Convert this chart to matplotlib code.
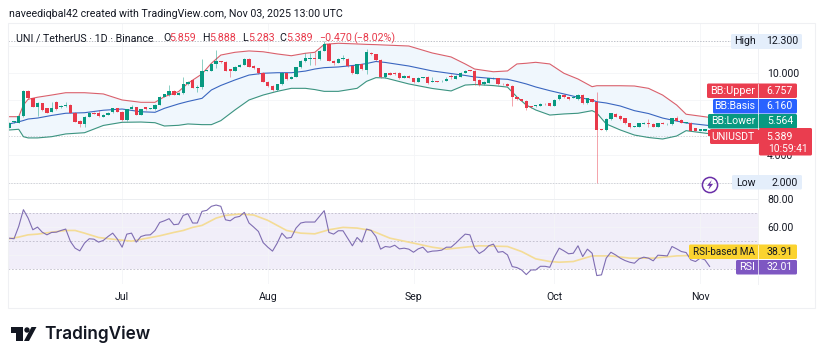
import numpy as np
import matplotlib
matplotlib.use('Agg')
import matplotlib.pyplot as plt
from matplotlib.patches import Rectangle, Polygon, Circle, FancyBboxPatch

plt.rcParams['font.family'] = ['Roboto', 'DejaVu Sans']

# data, one candle per day (0 = Jun 7)
opens = [6.01, 6.42, 6.38, 6.86, 8.71, 8.15, 7.54, 7.79, 7.42, 7.18, 7.91, 7.50, 7.59, 7.67, 7.11, 6.52, 6.28, 6.81, 7.11, 7.06,
         6.81, 6.94, 7.13, 7.42, 7.18, 6.57, 7.40, 7.50, 6.94, 7.50, 7.38, 7.37, 7.67, 8.27, 8.40, 8.71, 8.42, 8.57, 9.17, 9.49,
         8.93, 8.96, 10.15, 10.17, 10.66, 10.85, 10.80, 10.27, 10.17, 10.46, 10.59, 11.02, 10.51, 10.34, 10.03, 9.37, 9.08, 8.76, 9.17, 9.98,
         9.59, 9.73, 10.42, 10.88, 11.05, 11.10, 11.00, 11.63, 12.12, 10.90, 10.76, 11.02, 11.05, 10.51, 9.93, 10.63, 10.22, 11.49, 11.36, 10.95,
         9.68, 10.03, 10.03, 10.03, 9.64, 9.78, 9.61, 9.37, 9.64, 9.73, 9.37, 9.41, 9.40, 9.44, 9.75, 9.59, 9.73, 10.03, 10.20, 10.17,
         9.49, 9.17, 9.30, 9.61, 9.61, 9.22, 9.20, 9.05, 8.23, 8.08, 7.96, 7.58, 7.59, 7.62, 7.76, 7.79, 7.62, 8.10, 8.40, 8.23,
         8.20, 8.08, 8.40, 7.79, 8.08, 7.91, 5.89, 5.84, 6.64, 7.01, 6.86, 6.69, 6.33, 6.08, 6.08, 6.30, 6.35, 6.28, 6.08, 6.35,
         6.25, 6.25, 6.69, 6.57, 6.36, 6.38, 5.96, 5.77, 5.77, 5.859]
closes = [6.38, 6.46, 6.86, 8.71, 8.15, 7.54, 7.79, 7.30, 7.11, 7.42, 7.35, 7.59, 7.67, 7.11, 6.45, 6.28, 6.81, 7.11, 7.01, 6.86,
          6.94, 7.11, 7.42, 7.18, 6.57, 7.35, 7.50, 6.94, 7.35, 7.35, 7.42, 7.67, 8.27, 8.44, 8.71, 8.40, 8.57, 9.17, 9.37, 8.93,
          8.96, 10.15, 10.20, 10.66, 10.88, 10.80, 10.17, 10.17, 10.46, 10.59, 11.02, 10.46, 10.34, 10.03, 9.37, 9.05, 8.76, 9.17, 10.03, 9.56,
          9.73, 10.42, 10.88, 11.07, 11.10, 11.05, 11.63, 12.12, 10.88, 10.76, 11.02, 11.12, 10.51, 9.98, 10.63, 10.27, 11.56, 11.36, 10.95, 9.68,
          9.98, 9.88, 9.90, 9.61, 9.78, 9.66, 9.34, 9.64, 9.68, 9.25, 9.41, 9.37, 9.44, 9.59, 9.70, 9.78, 10.03, 10.17, 10.15, 9.42,
          9.13, 9.34, 9.61, 9.66, 9.17, 9.17, 9.08, 8.23, 8.08, 7.96, 7.42, 7.52, 7.64, 7.74, 7.72, 7.62, 8.03, 8.40, 8.23, 8.08,
          8.25, 8.40, 7.79, 8.15, 7.91, 5.84, 5.85, 6.64, 7.06, 6.81, 6.62, 6.33, 6.08, 6.12, 6.33, 6.35, 6.31, 6.08, 6.33, 6.31,
          6.30, 6.69, 6.52, 6.38, 6.40, 5.77, 5.77, 5.89, 5.89, 5.389]
highs = list(np.maximum(opens, closes) + 0.04)
lows = list(np.minimum(opens, closes) - 0.04)
# wicks that stick out of the bodies (day, high)
long_highs = {6: 7.85, 9: 7.91, 12: 7.91, 19: 7.30, 26: 7.67, 34: 9.10, 37: 9.69, 40: 9.10, 41: 11.00, 44: 11.68, 63: 11.44,
              64: 11.44, 65: 11.56, 71: 11.35, 76: 11.75, 90: 9.73, 93: 9.70, 94: 9.90, 99: 10.25, 125: 8.64, 136: 6.62, 142: 6.85,
              67: 12.30}
long_lows = {6: 6.85, 15: 6.08, 16: 6.08, 34: 8.30, 37: 8.50, 39: 8.90, 40: 8.60, 41: 8.80, 44: 10.34, 47: 9.69, 53: 9.90,
             63: 10.80, 64: 10.59, 65: 10.59, 69: 10.55, 76: 9.95, 94: 9.55, 99: 9.10, 100: 9.05, 107: 7.59, 110: 7.30,
             125: 2.00, 132: 5.98, 136: 6.08, 149: 5.283}
for d, v in long_highs.items():
    highs[d] = v
for d, v in long_lows.items():
    lows[d] = v

bb_days = [0, 2, 3, 4, 6, 9, 12, 16, 20, 24, 28, 31, 33, 36, 38, 41, 43, 45, 48, 51, 54, 57, 60, 63, 65, 67, 70, 74, 76, 78,
           80, 85, 90, 94, 97, 99, 103, 106, 108, 110, 112, 115, 118, 121, 124, 125, 127, 130, 133, 136, 139, 142, 144, 149]
bb_upper = [6.81, 6.81, 7.66, 8.08, 8.23, 8.39, 8.56, 8.56, 8.47, 8.03, 7.86, 7.86, 8.27, 8.64, 9.25, 9.93, 10.71, 11.31, 11.51, 11.61,
            11.55, 11.39, 11.26, 11.44, 11.51, 12.09, 12.17, 12.12, 12.09, 12.07, 12.04, 11.97, 11.46, 11.17, 10.66, 10.29, 10.09, 10.15, 10.66, 10.71,
            10.78, 10.66, 9.98, 9.56, 9.00, 9.07, 9.07, 9.07, 9.05, 8.88, 8.39, 7.66, 6.99, 6.757]
bb_basis = [6.28, 6.44, 6.53, 6.64, 6.71, 6.90, 7.06, 7.10, 7.28, 7.37, 7.17, 7.13, 7.42, 7.74, 7.92, 8.15, 8.76, 9.09, 9.49, 9.85,
            9.98, 10.02, 10.02, 10.14, 10.29, 10.39, 10.44, 10.58, 10.69, 10.84, 10.77, 10.51, 10.15, 9.96, 9.82, 9.71, 9.59, 9.54, 9.38, 9.20,
            8.98, 8.71, 8.47, 8.23, 8.03, 7.90, 7.81, 7.59, 7.25, 7.04, 6.71, 6.49, 6.35, 6.16]
bb_lower = [5.84, 5.89, 5.35, 5.26, 5.26, 5.35, 5.55, 5.64, 6.17, 6.40, 6.42, 6.37, 6.13, 6.18, 6.28, 6.23, 6.23, 6.52, 7.30, 8.03,
            8.39, 8.66, 8.88, 8.88, 8.79, 8.66, 8.66, 8.88, 9.39, 9.66, 9.64, 9.20, 8.87, 8.69, 9.12, 9.16, 9.08, 8.97, 8.25, 7.66,
            7.30, 6.93, 7.01, 7.06, 7.25, 7.08, 6.28, 5.84, 5.47, 5.29, 5.18, 5.40, 5.79, 5.564]

rsi = [52.1, 51.7, 60.5, 72.4, 66.4, 58.1, 60, 56.4, 54.5, 56.2, 56.4, 57.6, 58.6, 49.8, 45, 43.1, 48.6, 51.7, 51.4, 49.3,
       50.5, 53.3, 55.7, 51.4, 45.7, 55, 55.7, 49.3, 53.3, 54.3, 54.5, 57.6, 63.3, 64.5, 66, 61.7, 62.1, 68.3, 69.5, 62.9,
       62.9, 71.2, 71.9, 74.8, 75.7, 74.8, 65.2, 64.5, 66.9, 67.6, 70.5, 62.9, 60, 56.9, 49, 45.7, 42.9, 48.6,
       55.7, 52.1, 52.6, 59.3, 62.9, 63.6, 63.6, 63.6, 67.6, 71.7, 56.2, 55, 57.4, 57.4, 52.1, 46.7, 52.6, 49.3, 58.6, 57.6,
       53.3, 44.3, 46.2, 45.7, 47.1, 44.5, 45, 44.3, 42.1, 44.5, 45.7, 42.1, 42.9, 43.1, 43.6, 45.7, 45.7, 48.6, 51.9, 55,
       54.5, 45, 41.2, 43.3, 46.7, 47.9, 42.1, 42.6, 40.2, 31.9, 31.2, 29.5, 26.2, 29.5, 29.5, 32.1, 32.1, 31.4,
       39, 45, 43.1, 41, 41.4, 46.7, 39, 44.3, 41.4, 25.5, 26, 37.9, 42.1, 40.2, 37.9, 36.2, 35, 34.3, 37.4, 38.6,
       37.9, 36, 40, 39.8, 39.5, 46.2, 44.5, 42.6, 41.9, 36.7, 35.5, 37.9, 36.7, 32.01]
ma_days = [0, 2, 4, 6, 9, 12, 14, 16, 19, 22, 26, 29, 32, 35, 37, 39, 41, 44, 46, 49, 52, 55,
           59, 62, 65, 68, 71, 74, 77, 81, 86, 90, 93, 97, 100, 106, 109, 112, 115,
           117, 120, 124, 128, 132, 137, 142, 145, 149]
rsi_ma = [51.7, 52.9, 54.5, 55, 56.4, 57.6, 57.6, 55.7, 52.6, 51.4, 50, 51.9, 53.8, 56.2, 57.6, 59.8, 61.2, 66.4, 68.3, 69.3, 68.6, 64.8,
          57.6, 55.7, 55.2, 58.1, 59.8, 59.3, 57.6, 52.1, 48.6, 45.7, 44.3, 45.7, 46.7, 46.2, 42.6, 37.4, 35.5,
          35, 35.5, 39.5, 39.5, 37.9, 37.9, 39.5, 39.8, 38.91]

month_days = [24, 55, 86, 116, 147]
month_labels = ['Jul', 'Aug', 'Sep', 'Oct', 'Nov']

UP = '#089981'
DOWN = '#e8394a'
INK = '#131722'
W, H = 825, 361


def pane(left, top, right, bottom):
    return fig.add_axes([left / W, 1 - bottom / H, (right - left) / W, (bottom - top) / H])


fig = plt.figure(figsize=(W / 100, H / 100), dpi=100, facecolor='white')
ax = pane(8, 23, 758, 199)
ax2 = pane(8, 199, 758, 284)

# price pane
days = np.arange(len(opens))
opens = np.array(opens)
closes = np.array(closes)
colors = [UP if c >= o else DOWN for o, c in zip(opens, closes)]
ax.fill_between(bb_days, bb_lower, bb_upper, color='#f0f7fd', lw=0, zorder=1)
ax.plot(bb_days, bb_upper, color='#d9606c', lw=0.8, zorder=2)
ax.plot(bb_days, bb_basis, color='#3a66c0', lw=0.8, zorder=2)
ax.plot(bb_days, bb_lower, color='#3c9480', lw=0.8, zorder=2)
ax.vlines(days, lows, highs, colors=colors, lw=0.5, alpha=0.65, zorder=3)
ax.bar(days, np.abs(closes - opens), bottom=np.minimum(opens, closes), width=0.72, color=colors, lw=0, zorder=4)
ax.axhline(12.3, color='#a5a8b2', lw=0.5, dashes=(2, 2), zorder=1.5)
ax.axhline(2.0, color='#c2c5cc', lw=0.5, dashes=(2, 2), zorder=1.5)
ax.axhline(5.389, color='#c2c5cc', lw=0.5, dashes=(2, 2), zorder=1.5)
ax.set_xlim(-0.28, 159.3)
ax.set_ylim(0.80, 13.65)
ax.set_yticks([2, 4, 6, 8, 10, 12])
ax.set_yticklabels(['', '4.000', '', '', '10.000', ''])

# rsi pane
ax2.axhspan(30, 70, color='#f1eef9', lw=0, zorder=0)
for level in [70, 50, 30]:
    ax2.axhline(level, color='#b4b1c2', lw=0.5, dashes=(2.5, 2.5), zorder=1)
ax2.plot(ma_days, rsi_ma, color='#f4dc96', lw=1.2, zorder=2)
ax2.plot(days, rsi, color='#7f6db2', lw=0.8, zorder=3)
ax2.set_xlim(-0.28, 159.3)
ax2.set_ylim(19.5, 80)
ax2.set_yticks([40, 60, 80])
ax2.set_yticklabels(['', '60.00', '80.00'])

for a in (ax, ax2):
    a.yaxis.tick_right()
    a.set_xticks(month_days)
    a.grid(True, color='#f4f5f7', lw=0.6, zorder=0)
    a.set_axisbelow(True)
    a.tick_params(length=0, labelsize=7.6, labelcolor=INK, pad=6.5)
    for s in a.spines.values():
        s.set_visible(False)
ax.set_xticklabels([])
ax2.set_xticklabels(month_labels)
ax2.tick_params(axis='x', pad=6)

# overlay in pixels for header, labels and logo
ov = fig.add_axes([0, 0, 1, 1], facecolor='none')
ov.set_xlim(0, W)
ov.set_ylim(H, 0)
ov.axis('off')
ov.add_patch(Rectangle((8, 23), 807, 285, fill=False, ec='#eff0f3', lw=0.8))
ov.plot([8, 758], [199, 199], color='#eceef1', lw=0.7)
ov.plot([758, 758], [23, 284], color='#f0f1f4', lw=0.7)

ov.text(9, 14, 'naveediqbal42 created with TradingView.com, Nov 03, 2025 13:00 UTC', fontsize=7.63,
        color=INK, va='center')
ov.text(16, 38, 'UNI / TetherUS · 1D · Binance', fontsize=7.7, color=INK, va='center')
for x, s, c in [(163, 'O', INK), (169, '5.859', DOWN), (202, 'H', INK), (209, '5.888', DOWN), (242, 'L', INK),
                (248, '5.283', DOWN), (279, 'C', INK), (286, '5.389', DOWN), (319, '−0.470', DOWN),
                (353, '(−8.02%)', DOWN)]:
    ov.text(x, 38, s, fontsize=7.7, color=c, va='center')


def pill(left, top, right, bottom, color):
    ov.add_patch(FancyBboxPatch((left + 1, top + 1), right - left - 2, bottom - top - 2,
                                boxstyle='round,pad=1,rounding_size=1.5', fc=color, ec='none', zorder=5))


def tag(left, top, name, value, color, fg='white', size=7.8):
    pill(left, top, 797, top + 14.5, color)
    ov.plot([758, 758], [top, top + 14.5], color='white', lw=0.5, zorder=6)
    mid = top + 7.3
    ov.text(755, mid, name, ha='right', va='center', fontsize=size, color=fg, zorder=7)
    ov.text(793, mid, value, ha='right', va='center', fontsize=7.6, color=fg, zorder=7)


pill(731, 34, 802, 49, '#e4eefb')
ov.text(734, 41, 'High', fontsize=7.6, color=INK, va='center', zorder=7)
ov.text(798, 41, '12.300', fontsize=7.6, color=INK, va='center', ha='right', zorder=7)
pill(732, 175, 802, 189.5, '#e4eefb')
ov.text(736, 182.5, 'Low', fontsize=7.6, color=INK, va='center', zorder=7)
ov.text(798, 182.5, '2.000', fontsize=7.6, color=INK, va='center', ha='right', zorder=7)

tag(707, 83.5, 'BB:Upper', '6.757', '#ea3d4f')
tag(713, 99, 'BB:Basis', '6.160', '#2962ff', size=7.6)
tag(708, 114, 'BB:Lower', '5.564', '#089981', size=7.6)
pill(710, 129, 759, 144, '#ea3d4f')
pill(759, 128, 812, 155.5, '#ea3d4f')
ov.text(755, 136.5, 'UNIUSDT', ha='right', va='center', fontsize=7.6, color='white', zorder=7)
ov.text(793, 136.5, '5.389', ha='right', va='center', fontsize=7.6, color='white', zorder=7)
ov.text(808, 149, '10:59:41', ha='right', va='center', fontsize=7.4, color='white', zorder=7)
tag(689, 244.5, 'RSI-based MA', '38.91', '#fbd32f', fg=INK, size=7.1)
tag(736, 260, 'RSI', '32.01', '#7e57c2')

# bolt icon
ov.add_patch(Circle((710, 185), 7.6, fill=False, ec='#6a2fa8', lw=1.1, zorder=6))
ov.add_patch(Polygon([(711.8, 180), (707, 185.8), (709.8, 185.8), (708.2, 190), (713, 184), (710.2, 184)],
                     fc='#6a2fa8', ec='none', zorder=6))

# logo
ov.add_patch(Polygon([(10.5, 327), (22.5, 327), (22.5, 341), (16, 341), (16, 332.5), (10.5, 332.5)], fc='#131722', ec='none'))
ov.add_patch(Circle((27, 330), 2.7, fc='#131722', ec='none'))
ov.add_patch(Polygon([(29, 341), (36.5, 327), (31.5, 327), (24, 341)], fc='#131722', ec='none'))
ov.text(44, 334, 'TradingView', fontsize=12.4, family=['Inter', 'DejaVu Sans'], weight='semibold', color='#131722',
        va='center')

fig.savefig('out.png', dpi=100)
